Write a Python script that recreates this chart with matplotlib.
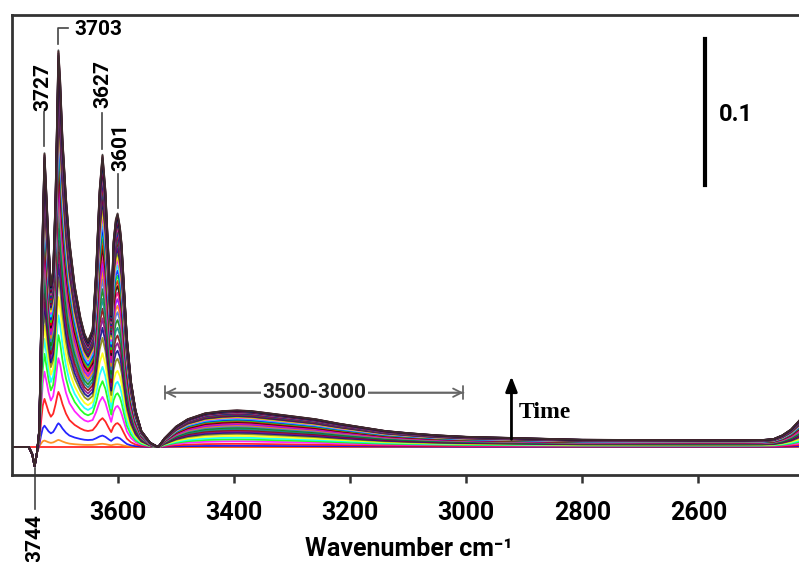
import numpy as np
import matplotlib
matplotlib.use("Agg")
import matplotlib.pyplot as plt

plt.rcParams['font.family'] = ['Roboto', 'DejaVu Sans']

# ---- spectra ----
wn = [3790, 3760, 3754, 3748, 3744, 3740, 3736, 3733, 3730, 3727, 3724, 3720,
      3716, 3712, 3708, 3705, 3703, 3700, 3696, 3690, 3684, 3675, 3665, 3658,
      3652, 3644, 3638, 3632, 3627, 3622, 3616, 3612, 3608, 3604, 3601, 3597,
      3594, 3590, 3585, 3578, 3570, 3560, 3545, 3531, 3520, 3500, 3480, 3450,
      3420, 3395, 3370, 3340, 3300, 3260, 3220, 3180, 3140, 3100, 3050, 3000,
      2950, 2900, 2850, 2800, 2700, 2600, 2520, 2490, 2470, 2455, 2440, 2426, 2410]

# last (top) spectrum, absorbance
a_final = [0.0, 0.0, 0.0, 0.0, 0.0, 0.0, 0.012, 0.08, 0.15, 0.20, 0.175, 0.14,
           0.11, 0.12, 0.17, 0.23, 0.27, 0.25, 0.21, 0.17, 0.14, 0.11, 0.088, 0.077,
           0.072, 0.08, 0.12, 0.175, 0.199, 0.175, 0.125, 0.09, 0.14, 0.155, 0.159, 0.15,
           0.138, 0.11, 0.075, 0.045, 0.025, 0.011, 0.003, 0.0, 0.006, 0.014, 0.019, 0.023,
           0.0245, 0.025, 0.0245, 0.023, 0.021, 0.019, 0.016, 0.0135, 0.011, 0.0095, 0.008, 0.007,
           0.0065, 0.006, 0.0055, 0.005, 0.0048, 0.0047, 0.0047, 0.0048, 0.0055, 0.008, 0.012, 0.018, 0.026]

# shape of the first spectra, 3703 peak = 1
a_early = [0.0, 0.0, 0.0, 0.0, 0.0, 0.0, 0.1, 0.5, 0.82, 0.92, 0.82, 0.68,
           0.6, 0.66, 0.82, 0.95, 1.0, 0.93, 0.78, 0.6, 0.48, 0.4, 0.34, 0.31,
           0.3, 0.31, 0.36, 0.42, 0.45, 0.4, 0.3, 0.25, 0.32, 0.37, 0.38, 0.34,
           0.28, 0.2, 0.11, 0.06, 0.03, 0.015, 0.005, 0.0, 0.01, 0.025, 0.035, 0.042,
           0.045, 0.046, 0.045, 0.042, 0.038, 0.034, 0.029, 0.024, 0.02, 0.017, 0.014, 0.012,
           0.011, 0.01, 0.009, 0.008, 0.008, 0.008, 0.008, 0.008, 0.009, 0.012, 0.018, 0.028, 0.04]

# negative band at 3744
dip_wn = [3736, 3740, 3744, 3748, 3754]
dip_abs = [0.0, -0.004, -0.013, -0.005, 0.0]

# height of each time step at 3703, as fraction of the last one
levels = [0.0, 0.018, 0.06, 0.139, 0.224, 0.282, 0.332, 0.378, 0.428, 0.46, 0.49,
          0.52, 0.55, 0.58, 0.61, 0.635, 0.66, 0.685, 0.71, 0.73, 0.75, 0.77, 0.79,
          0.81, 0.825, 0.84, 0.855, 0.87, 0.88, 0.89, 0.90, 0.91, 0.92, 0.93, 0.94,
          0.948, 0.956, 0.964, 0.972, 0.98, 0.986, 0.992, 0.997, 1.0]

colors = ['#FF0000', '#FF8000', '#0000FF', '#FF0000', '#FF00FF', '#00FF00', '#00FFFF',
          '#FFFF00', '#808000', '#000080', '#800080', '#800000', '#008080', '#008000',
          '#4169E1', '#FF8000', '#8000FF', '#FF0080', '#000000', '#FF0000', '#00FF00',
          '#0000FF', '#00FFFF', '#FF00FF', '#FFFF00', '#808000', '#000080', '#800080',
          '#800000', '#008080', '#404040', '#FF0000', '#0000FF', '#008000', '#FF00FF',
          '#808000', '#000080', '#800000', '#800080', '#008080', '#000000', '#000080',
          '#800000', '#333333']

# ---- build curves ----
wn = np.array(wn)
a_final = np.array(a_final)
a_early = np.array(a_early) * a_final[wn == 3703][0]
dip = np.interp(wn, dip_wn, dip_abs)

fig = plt.figure(figsize=(7.99, 5.62), dpi=100)
ax = fig.add_axes([12 / 799, 87 / 562, 793 / 799, 460 / 562])

for i, h in enumerate(levels):
    w = (1 - h) ** 2
    y = h * (w * a_early + (1 - w) * a_final)
    if i > 0:
        y = y + dip
    ax.plot(wn, y, color=colors[i % len(colors)], lw=1.3, alpha=0.85)

ax.set_xlim(3783, 2416)
ax.set_ylim(-0.019, 0.294)

# axes styling
for s in ['left', 'bottom', 'top', 'right']:
    ax.spines[s].set_linewidth(2)
    ax.spines[s].set_color('#333333')
ax.set_yticks([])
ax.set_xticks([3600, 3400, 3200, 3000, 2800, 2600])
ax.tick_params(axis='x', direction='out', length=6, width=1.8, color='#333333',
               labelsize=18, pad=13)
for lab in ax.get_xticklabels():
    lab.set_fontweight('bold')
ax.set_xlabel('Wavenumber cm⁻¹', fontsize=18, fontweight='bold', labelpad=8)

# peak labels
lc = '#444444'
ax.plot([3727, 3727], [0.205, 0.228], color=lc, lw=1.2)
ax.text(3729, 0.245, '3727', rotation=90, ha='center', va='center', fontsize=15, fontweight='bold')
ax.plot([3703, 3703, 3686], [0.274, 0.285, 0.285], color=lc, lw=1.2)
ax.text(3675, 0.284, '3703', ha='left', va='center', fontsize=15, fontweight='bold')
ax.plot([3627, 3627], [0.203, 0.227], color=lc, lw=1.2)
ax.text(3627, 0.247, '3627', rotation=90, ha='center', va='center', fontsize=15, fontweight='bold')
ax.plot([3601, 3601], [0.163, 0.186], color=lc, lw=1.2)
ax.text(3596, 0.204, '3601', rotation=90, ha='center', va='center', fontsize=15, fontweight='bold')
ax.plot([3744, 3744], [-0.014, -0.042], color=lc, lw=1.2, clip_on=False)
ax.text(3744, -0.046, '3744', rotation=90, ha='center', va='top', fontsize=15,
        fontweight='bold', clip_on=False)

# 3500-3000 range marker
gc = '#666666'
ax.annotate('', xy=(3524, 0.037), xytext=(3000, 0.037),
            arrowprops=dict(arrowstyle='|-|,widthA=0.45,widthB=0.45', color=gc, lw=1.3))
ax.annotate('', xy=(3524, 0.037), xytext=(3300, 0.037),
            arrowprops=dict(arrowstyle='->,head_width=0.3,head_length=0.6', color=gc, lw=1.3))
ax.annotate('', xy=(3000, 0.037), xytext=(3200, 0.037),
            arrowprops=dict(arrowstyle='->,head_width=0.3,head_length=0.6', color=gc, lw=1.3))
ax.text(3262, 0.037, '3500-3000', ha='center', va='center', fontsize=15, fontweight='bold',
        color='#222222', bbox=dict(facecolor='white', edgecolor='none', pad=1))

# time arrow
ax.annotate('', xy=(2922, 0.050), xytext=(2922, 0.0034),
            arrowprops=dict(arrowstyle='-|>,head_width=0.35,head_length=0.9', color='black', lw=2))
ax.text(2910, 0.0235, 'Time', ha='left', va='center', fontsize=17, fontweight='bold',
        family='Liberation Serif')

# scale bar
ax.plot([2588, 2588], [0.178, 0.278], color='black', lw=3)
ax.text(2565, 0.226, '0.1', ha='left', va='center', fontsize=17, fontweight='bold')

plt.savefig('out.png', dpi=100)
